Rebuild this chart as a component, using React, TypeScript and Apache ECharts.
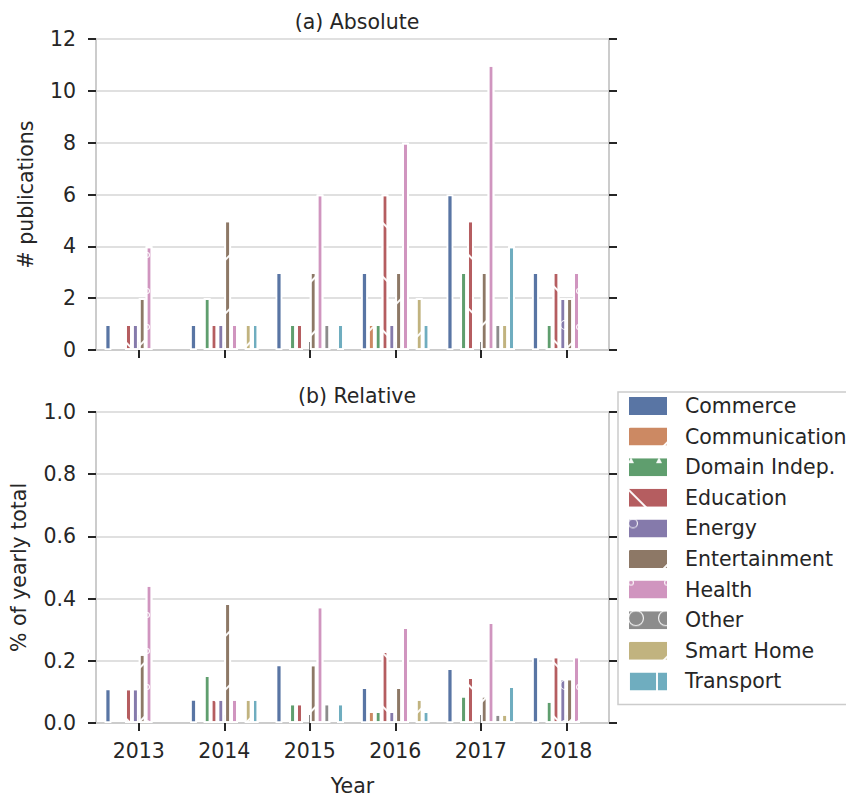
import React, { useEffect, useRef } from "react";
import * as echarts from "echarts";

const years = ["2013", "2014", "2015", "2016", "2017", "2018"];
const categories = [
  "Commerce",
  "Communication",
  "Domain Indep.",
  "Education",
  "Energy",
  "Entertainment",
  "Health",
  "Other",
  "Smart Home",
  "Transport",
];

// (a) Absolute: number of publications per year
const commerceAbs = [1, 1, 3, 3, 6, 3];
const communicationAbs = [0, 0, 0, 1, 0, 0];
const domainAbs = [0, 2, 1, 1, 3, 1];
const educationAbs = [1, 1, 1, 6, 5, 3];
const energyAbs = [1, 1, 0, 1, 0, 2];
const entertainmentAbs = [2, 5, 3, 3, 3, 2];
const healthAbs = [4, 1, 6, 8, 11, 3];
const otherAbs = [0, 0, 1, 0, 1, 0];
const smartHomeAbs = [0, 1, 0, 2, 1, 0];
const transportAbs = [0, 1, 1, 1, 4, 0];

// (b) Relative: share of yearly total
const commerceRel = [0.111, 0.077, 0.188, 0.115, 0.176, 0.214];
const communicationRel = [0, 0, 0, 0.038, 0, 0];
const domainRel = [0, 0.154, 0.063, 0.038, 0.088, 0.071];
const educationRel = [0.111, 0.077, 0.063, 0.231, 0.147, 0.214];
const energyRel = [0.111, 0.077, 0, 0.038, 0, 0.143];
const entertainmentRel = [0.222, 0.385, 0.188, 0.115, 0.088, 0.143];
const healthRel = [0.444, 0.077, 0.375, 0.308, 0.324, 0.214];
const otherRel = [0, 0, 0.063, 0, 0.029, 0];
const smartHomeRel = [0, 0.077, 0, 0.077, 0.029, 0];
const transportRel = [0, 0.077, 0.063, 0.038, 0.118, 0];

const absTicks = [0, 2, 4, 6, 8, 10, 12];
const relTicks = [0, 0.2, 0.4, 0.6, 0.8, 1.0];

const absoluteSeries = [
  commerceAbs, communicationAbs, domainAbs, educationAbs, energyAbs,
  entertainmentAbs, healthAbs, otherAbs, smartHomeAbs, transportAbs,
];
const relativeSeries = [
  commerceRel, communicationRel, domainRel, educationRel, energyRel,
  entertainmentRel, healthRel, otherRel, smartHomeRel, transportRel,
];

const colors = [
  "#5975a4", "#cc8963", "#5f9e6e", "#b55d60", "#857aab",
  "#8d7866", "#d095bf", "#8c8c8c", "#c1b37f", "#6fadbf",
];

const FONT = "DejaVu Sans";
const FS = 20.5;
const TXT = "#262626";
const SPINE = "#cccccc";

const WHITE = "rgba(255,255,255,0.95)";
const lineDecal = (rot: number, gap: number) => ({
  symbol: "rect",
  symbolSize: 1,
  color: WHITE,
  dashArrayX: [1, 0],
  dashArrayY: [1.3, gap],
  rotation: rot,
});
const ringPath = (d: number) => {
  const r = 10;
  const i = r - (20 * 1.1) / d;
  return `path://M0,${-r}A${r},${r},0,1,1,0,${r}A${r},${r},0,1,1,0,${-r}ZM0,${-i}A${i},${i},0,1,0,0,${i}A${i},${i},0,1,0,0,${-i}Z`;
};
const ringDecal = (d: number, gap: number) => ({
  symbol: ringPath(d),
  symbolSize: 1,
  color: WHITE,
  dashArrayX: [d, gap],
  dashArrayY: [d, gap],
});

const decals: any[] = [
  null,
  lineDecal(-Math.PI / 4, 36),
  { symbol: "triangle", symbolSize: 1, color: WHITE, dashArrayX: [6, 22], dashArrayY: [6, 22] },
  lineDecal(Math.PI / 4, 36),
  ringDecal(10, 30),
  lineDecal(-Math.PI / 4, 36),
  ringDecal(6, 30),
  ringDecal(16, 14),
  lineDecal(-Math.PI / 4, 36),
  { symbol: "rect", symbolSize: 1, color: WHITE, dashArrayX: [1.3, 26], dashArrayY: [1, 0] },
];

export default function App() {
  const ref = useRef<HTMLDivElement>(null);

  useEffect(() => {
    if (!ref.current) return;
    const chart = echarts.init(ref.current, undefined, { renderer: "svg" });

    const grids = [
      { left: 96, top: 39, width: 513, height: 311 },
      { left: 96, top: 412, width: 513, height: 311 },
    ];

    const tickStyle = { show: true, length: 8, alignWithLabel: true, lineStyle: { color: TXT, width: 2 } };
    const yTick = { show: true, length: 8, lineStyle: { color: TXT, width: 2 } };
    const axisLine = { show: true, lineStyle: { color: SPINE, width: 2 } };

    const mkX = (gridIndex: number, position: string, labels: boolean, extra: any = {}) => ({
      type: "category",
      data: years,
      gridIndex,
      position,
      boundaryGap: true,
      axisLine,
      axisTick: tickStyle,
      axisLabel: labels
        ? { show: true, color: TXT, fontSize: FS, fontFamily: FONT, margin: 17 }
        : { show: false },
      splitLine: { show: false },
      ...extra,
    });

    const mkY = (gridIndex: number, position: string, ticks: number[], labels: boolean, fmt: (v: number) => string, extra: any = {}) => ({
      type: "value",
      gridIndex,
      position,
      min: ticks[0],
      max: ticks[ticks.length - 1],
      interval: ticks[1] - ticks[0],
      axisLine,
      axisTick: yTick,
      axisLabel: labels
        ? { show: true, color: TXT, fontSize: FS, fontFamily: FONT, margin: 20, formatter: fmt }
        : { show: false },
      splitLine: labels ? { show: true, lineStyle: { color: "#d6d6d6", width: 1.5 } } : { show: false },
      ...extra,
    });

    const nameStyle = { color: TXT, fontSize: FS, fontFamily: FONT };

    const series: any[] = [];
    categories.forEach((name, i) => {
      const common = {
        name,
        type: "bar",
        barWidth: 6.84,
        barGap: "0%",
        itemStyle: {
          color: colors[i],
          borderColor: "#ffffff",
          borderWidth: 1.8,
          ...(decals[i] ? { decal: decals[i] } : {}),
        },
        emphasis: { disabled: true },
      };
      series.push({
        ...common,
        xAxisIndex: 0,
        yAxisIndex: 0,
        data: absoluteSeries[i].map((v) => (v === 0 ? null : v)),
      });
      series.push({
        ...common,
        xAxisIndex: 2,
        yAxisIndex: 2,
        data: relativeSeries[i].map((v) => (v === 0 ? null : v)),
      });
    });

    chart.setOption({
      animation: false,
      backgroundColor: "#ffffff",
      textStyle: { fontFamily: FONT, color: TXT },
      title: [
        { text: "(a) Absolute", left: 352, top: 6, textAlign: "center", textStyle: { ...nameStyle, fontWeight: "normal" } },
        { text: "(b) Relative", left: 352, top: 380, textAlign: "center", textStyle: { ...nameStyle, fontWeight: "normal" } },
      ],
      grid: grids,
      xAxis: [
        mkX(0, "bottom", false),
        mkX(0, "top", false),
        mkX(1, "bottom", true, { name: "Year", nameLocation: "middle", nameGap: 52, nameTextStyle: nameStyle }),
        mkX(1, "top", false),
      ],
      yAxis: [
        mkY(0, "left", absTicks, true, (v) => String(v), {
          name: "# publications", nameLocation: "middle", nameGap: 60, nameTextStyle: nameStyle,
        }),
        mkY(0, "right", absTicks, false, (v) => String(v)),
        mkY(1, "left", relTicks, true, (v) => v.toFixed(1), {
          name: "% of yearly total", nameLocation: "middle", nameGap: 67, nameTextStyle: nameStyle,
        }),
        mkY(1, "right", relTicks, false, (v) => v.toFixed(1)),
      ],
      legend: {
        data: categories,
        orient: "vertical",
        left: 618,
        top: 392,
        padding: [3, 12, 12, 9],
        itemWidth: 40,
        itemHeight: 20,
        itemGap: 8.6,
        icon: "rect",
        backgroundColor: "#ffffff",
        borderColor: SPINE,
        borderWidth: 1.5,
        z: 10,
        selectedMode: false,
        textStyle: { color: TXT, fontSize: FS, fontFamily: FONT, padding: [0, 0, 0, 12], lineHeight: 20 },
      },
      series,
    });

    return () => chart.dispose();
  }, []);

  return (
    <div
      ref={ref}
      style={{ position: "fixed", left: 0, top: 0, width: 846, height: 797 }}
    />
  );
}
